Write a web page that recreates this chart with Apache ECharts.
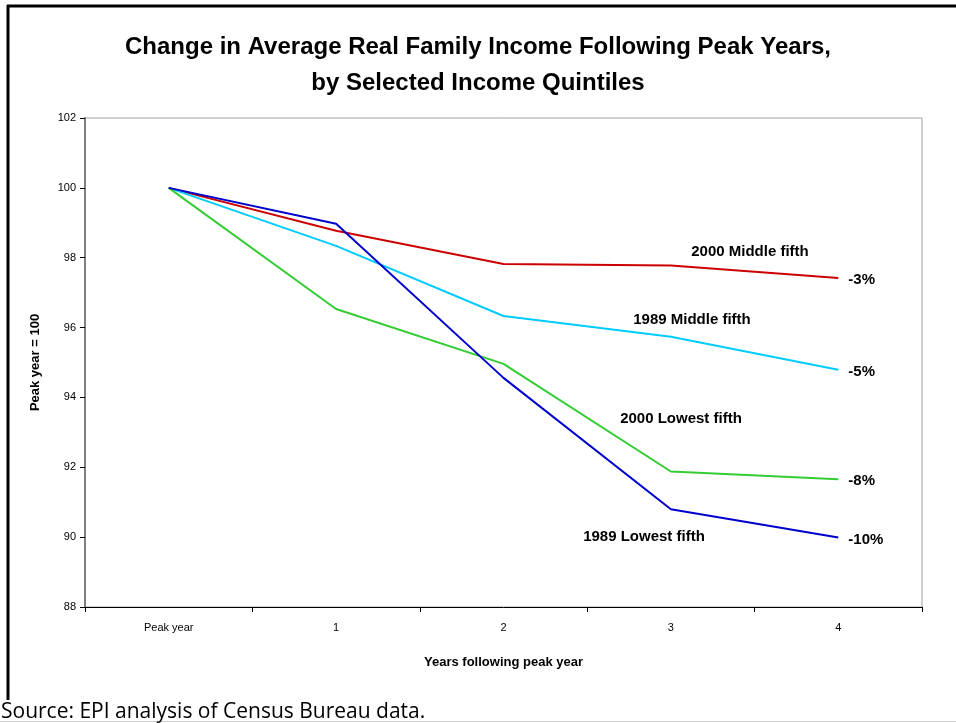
<!DOCTYPE html>
<html><head><meta charset="utf-8">
<script src="https://cdn.jsdelivr.net/npm/echarts@6/dist/echarts.min.js"></script>
<style>html,body{margin:0;padding:0;background:#fff}#c{width:956px;height:723px}</style>
</head><body><div id="c"></div>
<script>
var categories = ['Peak year', '1', '2', '3', '4'];
var mid2000 = [100, 98.77, 97.82, 97.78, 97.42];
var mid1989 = [100, 98.34, 96.33, 95.74, 94.79];
var low2000 = [100, 96.53, 94.96, 91.88, 91.66];
var low1989 = [100, 98.97, 94.56, 90.8, 89.99];
var seriesNames = ['2000 Middle fifth', '1989 Middle fifth', '2000 Lowest fifth', '1989 Lowest fifth'];
var endLabels = ['-3%', '-5%', '-8%', '-10%'];
var yTicks = [88, 90, 92, 94, 96, 98, 100, 102];

var chart = echarts.init(document.getElementById('c'), null, {renderer: 'canvas'});
var font = 'Liberation Sans, Arial, sans-serif';
function mk(name, data, color, lbl) {
  return {
    name: name, type: 'line', data: data, symbol: 'none', smooth: false,
    lineStyle: {color: color, width: 2}, itemStyle: {color: color},
    endLabel: {show: true, formatter: lbl, fontFamily: font, fontWeight: 'bold', fontSize: 15, color: '#000', distance: 10, offset: [0, 2]},
    animation: false
  };
}
chart.setOption({
  animation: false,
  title: {
    text: 'Change in Average Real Family Income Following Peak Years,\nby Selected Income Quintiles',
    left: 'center', top: 24,
    textStyle: {fontFamily: font, fontWeight: 'bold', fontSize: 24, lineHeight: 36, color: '#000'}
  },
  grid: {left: 85, right: 34, top: 118, bottom: 116, show: true, borderColor: '#a0a0a0', borderWidth: 1, backgroundColor: 'transparent'},
  xAxis: {
    type: 'category', data: categories, boundaryGap: true,
    name: 'Years following peak year', nameLocation: 'middle', nameGap: 49,
    nameTextStyle: {fontFamily: font, fontWeight: 'bold', fontSize: 13, color: '#000'},
    axisLine: {lineStyle: {color: '#000', width: 1}},
    axisTick: {show: true, length: 5, inside: false, lineStyle: {color: '#000'}},
    axisLabel: {fontFamily: font, fontSize: 11, color: '#000', margin: 15},
    splitLine: {show: false}
  },
  yAxis: {
    type: 'value', min: 88, max: 102, interval: 2,
    name: 'Peak year = 100', nameLocation: 'middle', nameGap: 43, nameRotate: 90,
    nameTextStyle: {fontFamily: font, fontWeight: 'bold', fontSize: 13, color: '#000'},
    axisLine: {show: true, lineStyle: {color: '#808080', width: 2}},
    axisTick: {show: true, length: 5, lineStyle: {color: '#000'}},
    axisLabel: {fontFamily: font, fontSize: 11, color: '#000', margin: 9,
      formatter: function (v) { return yTicks.indexOf(v) >= 0 ? String(v) : ''; }},
    splitLine: {show: false}
  },
  series: [
    mk(seriesNames[0], mid2000, '#CC0000', endLabels[0]),
    mk(seriesNames[1], mid1989, '#00CCFF', endLabels[1]),
    mk(seriesNames[2], low2000, '#33CC33', endLabels[2]),
    mk(seriesNames[3], low1989, '#0000CC', endLabels[3])
  ],
  graphic: [
    {type: 'line', shape: {x1: 7, y1: 6, x2: 956, y2: 6}, style: {stroke: '#000', lineWidth: 3}},
    {type: 'line', shape: {x1: 8, y1: 5, x2: 8, y2: 700}, style: {stroke: '#000', lineWidth: 3}},
    {type: 'line', shape: {x1: 0, y1: 721.5, x2: 956, y2: 721.5}, style: {stroke: '#d0d0d0', lineWidth: 1}},
    {type: 'text', x: 1, y: 712, style: {text: 'Source: EPI analysis of Census Bureau data.', font: '21px "Open Sans", sans-serif', fill: '#000', verticalAlign: 'middle'}},
    {type: 'text', x: 750, y: 252, style: {text: seriesNames[0], font: 'bold 15px ' + font, fill: '#000', align: 'center', verticalAlign: 'middle'}},
    {type: 'text', x: 692, y: 320, style: {text: seriesNames[1], font: 'bold 15px ' + font, fill: '#000', align: 'center', verticalAlign: 'middle'}},
    {type: 'text', x: 681, y: 419, style: {text: seriesNames[2], font: 'bold 15px ' + font, fill: '#000', align: 'center', verticalAlign: 'middle'}},
    {type: 'text', x: 644, y: 537, style: {text: seriesNames[3], font: 'bold 15px ' + font, fill: '#000', align: 'center', verticalAlign: 'middle'}}
  ]
});
</script></body></html>
